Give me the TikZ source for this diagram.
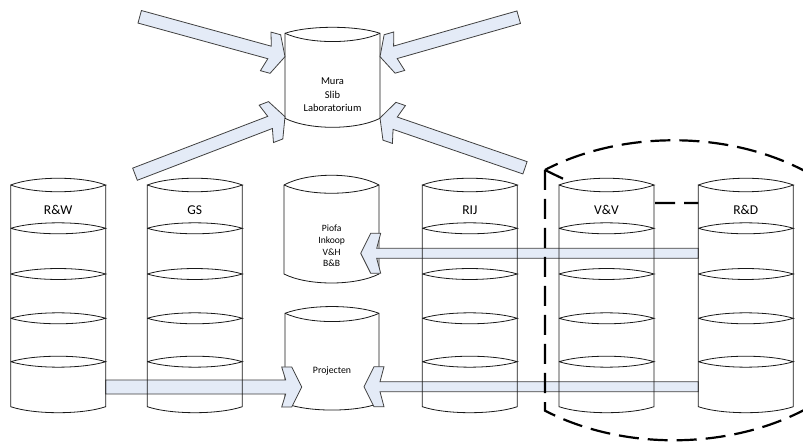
\documentclass[tikz,border=0pt]{standalone}
\usepackage{fontspec}
\setmainfont{Carlito}
\usetikzlibrary{calc}
\definecolor{arrowfill}{RGB}{228,235,247}
\definecolor{lineclr}{RGB}{25,25,25}
\tikzset{
  cylline/.style={draw=lineclr, line width=0.8pt},
  fatarrowstyle/.style={draw=black!75, line width=0.8pt, fill=arrowfill, line join=miter},
  dashedbound/.style={draw=black, line width=2.2pt, dash pattern=on 20pt off 9pt},
  collabel/.style={font=\fontsize{13.5}{15}\selectfont, inner sep=0pt},
  midlabel/.style={align=center, inner sep=0pt},
  colfill/.pic={
    \fill[white] (0,0) .. controls (23.75,9) and (71.25,9) .. (95,0) -- (95,-221.7)
      .. controls (71.25,-229.7) and (23.75,-229.7) .. (0,-221.7) -- cycle;
  },
  colline/.pic={
    \draw[cylline] (0,0) .. controls (23.75,9) and (71.25,9) .. (95,0)
      .. controls (71.25,-9) and (23.75,-9) .. (0,0) -- (0,-221.7)
      .. controls (23.75,-229.7) and (71.25,-229.7) .. (95,-221.7) -- (95,0);
    \foreach \yy in {-43.3,-89,-133.3,-176.7}{
      \draw[cylline] (0,\yy) .. controls (23.75,\yy+7.3) and (71.25,\yy+7.3) .. (95,\yy)
        .. controls (71.25,\yy-7.3) and (23.75,\yy-7.3) .. (0,\yy);
    }
    \node[collabel] (-label) at (47.5,-25) {#1};
  }
}
\newcommand\fatarrow[3]{%
  \path let \p1=($(#2)-(#1)$) in \pgfextra{%
    \pgfmathsetmacro\tmpang{atan2(\y1,\x1)}%
    \pgfmathsetmacro\tmplen{veclen(\x1,\y1)}%
    \xdef\faAng{\tmpang}\xdef\faLen{\tmplen}};
  \begin{scope}[shift={(#1)},rotate=\faAng]
    \draw[fatarrowstyle] (0,#3) -- ({\faLen-16},#3) -- ({\faLen-20},20) -- ({\faLen-10},20)
      -- (\faLen,0) -- ({\faLen-10},-20) -- ({\faLen-20},-20) -- ({\faLen-16},-#3)
      -- (0,-#3) -- cycle;
  \end{scope}}
\begin{document}
\begin{tikzpicture}[x=1pt,y=1pt]
\useasboundingbox (0,0) rectangle (803,-443);
\clip (0,0) rectangle (803,-443);
\fill[white] (0,0) rectangle (803,-443);

% coordinates
\coordinate (dcorner) at (545,-170);
\coordinate (dbottom) at (545,-410.7);
\coordinate (a1s) at (139.7,-16.8);  \coordinate (a1e) at (285,-56.7);
\coordinate (a2s) at (518.7,-17.2);  \coordinate (a2e) at (380,-56.7);
\coordinate (a3s) at (135,-174.2);   \coordinate (a3e) at (285,-116.7);
\coordinate (a4s) at (525,-167.8);   \coordinate (a4e) at (380,-118);
\coordinate (a5s) at (698.3,-253.3); \coordinate (a5e) at (360.7,-253.3);
\coordinate (a6s) at (698.3,-386.7); \coordinate (a6e) at (364,-386.7);
\coordinate (a7s) at (105.7,-387);   \coordinate (a7e) at (301.7,-387);

% inner dashed line (hidden behind columns)
\draw[dashedbound] (dcorner) .. controls (585,-190) and (620,-203) .. (660,-203) -- (745,-203);

% middle cylinders
\filldraw[cylline, fill=white] (285,-33.3) .. controls (308.75,-25.3) and (356.25,-25.3) .. (380,-33.3)
  -- (380,-118.3) .. controls (356.25,-130.3) and (308.75,-130.3) .. (285,-118.3) -- cycle;
\draw[cylline] (285,-33.3) .. controls (308.75,-44.3) and (356.25,-44.3) .. (380,-33.3);
\node[midlabel, font=\fontsize{10.5}{13.5}\selectfont] (mura) at (332.5,-95) {Mura\\Slib\\Laboratorium};

\filldraw[cylline, fill=white] (284,-185) .. controls (307.75,-172) and (355.25,-172) .. (379,-185)
  -- (379,-274) .. controls (355.25,-286) and (307.75,-286) .. (284,-274) -- cycle;
\draw[cylline] (284,-185) .. controls (307.75,-196) and (355.25,-196) .. (379,-185);
\node[midlabel, font=\fontsize{9.6}{11.7}\selectfont] (piofa) at (331.7,-246) {Piofa\\Inkoop\\V\&H\\B\&B};

\filldraw[cylline, fill=white] (285,-313.3) .. controls (308.5,-304.3) and (355.5,-304.3) .. (379,-313.3)
  -- (379,-403.3) .. controls (355.5,-412.3) and (308.5,-412.3) .. (285,-403.3) -- cycle;
\draw[cylline] (285,-313.3) .. controls (308.5,-324.3) and (355.5,-324.3) .. (379,-313.3);
\node[midlabel, font=\fontsize{9.8}{11.7}\selectfont] (proj) at (332,-371) {Projecten};

% column fills
\pic at (10.7,-185) {colfill};
\pic at (147.3,-185) {colfill};
\pic at (422.3,-185) {colfill};
\pic at (559,-185) {colfill};
\pic at (698.3,-185) {colfill};

% arrows
\fatarrow{a1s}{a1e}{6.5}
\fatarrow{a2s}{a2e}{6.5}
\fatarrow{a3s}{a3e}{6.5}
\fatarrow{a4s}{a4e}{6.5}
\fatarrow{a5s}{a5e}{5}
\fatarrow{a6s}{a6e}{5}
\fatarrow{a7s}{a7e}{7}

% column outlines and labels
\pic (rw) at (10.7,-185) {colline={R\&W}};
\pic (gs) at (147.3,-185) {colline={GS}};
\pic (rij) at (422.3,-185) {colline={RIJ}};
\pic (vv) at (559,-185) {colline={V\&V}};
\pic (rd) at (698.3,-185) {colline={R\&D}};

% outer dashed boundary
\draw[dashedbound] (dcorner) -- (dbottom) arc[start angle=233.4, end angle=486.6, x radius=216, y radius=150];
\end{tikzpicture}
\end{document}
